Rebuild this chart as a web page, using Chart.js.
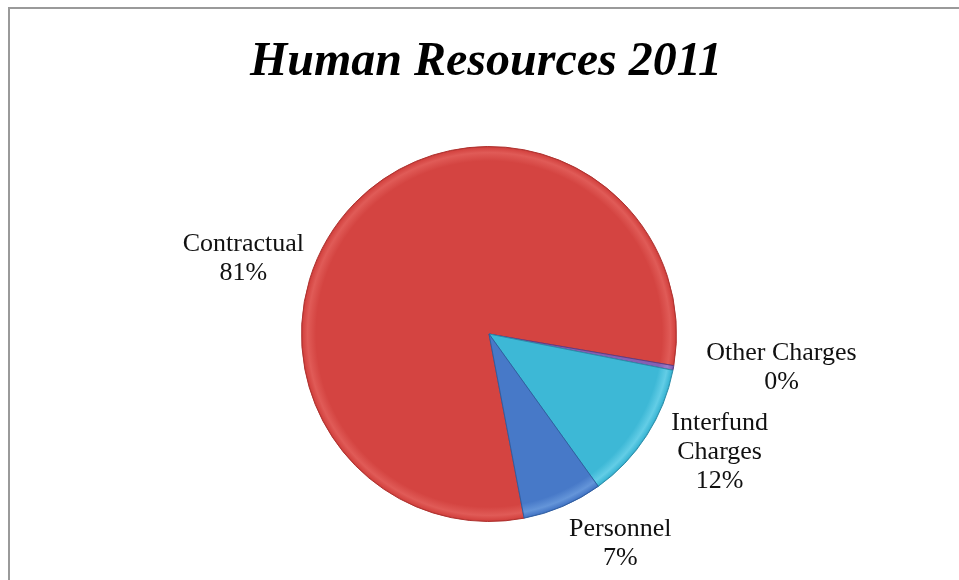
<!DOCTYPE html>
<html>
<head>
<meta charset="utf-8">
<script src="https://cdn.jsdelivr.net/npm/chart.js@4"></script>
<style>
  html, body { margin: 0; padding: 0; background: #ffffff; }
  #wrap { width: 959px; height: 580px; position: relative; }
</style>
</head>
<body>
<div id="wrap"><canvas id="c" width="959" height="580"></canvas></div>
<script>
// Budget shares, drawn clockwise from the start angle
const categories = ['Contractual', 'Other Charges', 'Interfund Charges', 'Personnel'];
const shares = [80.7, 0.4, 12.0, 6.9];
const titleText = 'Human Resources 2011';

// Slice colours: base, rim highlight, edge shade
const baseColors = ['#d44441', '#8460b4', '#3db8d6', '#4779c8'];
const lightColors = ['#e05b57', '#9a7cc8', '#63cde6', '#6495d9'];
const darkColors = ['#b0322f', '#5c3f88', '#2b8eaa', '#305ea2'];

// Label lines per slice (name lines; percentage appended)
const labelLines = [['Contractual'], ['Other Charges'], ['Interfund', 'Charges'], ['Personnel']];
// Label anchors in radius units relative to pie centre
const labelAnchors = [[-1.31, -0.40], [1.56, 0.18], [1.23, 0.63], [0.70, 1.12]];

const serif = '"Liberation Serif", "Times New Roman", serif';

function sliceFill(ctx) {
  const chart = ctx.chart;
  const area = chart.chartArea;
  if (!area) return baseColors[ctx.dataIndex];
  const el = chart.getDatasetMeta(0).data[ctx.dataIndex];
  const cx = (area.left + area.right) / 2;
  const cy = (area.top + area.bottom) / 2;
  const r = el && el.outerRadius ? el.outerRadius : Math.min(area.width, area.height) / 2;
  const g = chart.ctx.createRadialGradient(cx, cy, 0, cx, cy, r);
  const i = ctx.dataIndex;
  g.addColorStop(0, baseColors[i]);
  g.addColorStop(0.92, baseColors[i]);
  g.addColorStop(0.965, lightColors[i]);
  g.addColorStop(0.99, baseColors[i]);
  g.addColorStop(1, darkColors[i]);
  return g;
}

const decor = {
  id: 'decor',
  beforeDraw(chart) {
    const c = chart.ctx;
    c.save();
    c.fillStyle = '#ffffff';
    c.fillRect(0, 0, chart.width, chart.height);
    c.strokeStyle = '#9a9a9a';
    c.lineWidth = 2;
    c.beginPath();
    c.moveTo(9, chart.height + 2);
    c.lineTo(9, 8);
    c.lineTo(chart.width + 2, 8);
    c.stroke();
    c.fillStyle = '#000000';
    c.font = 'italic bold 48px ' + serif;
    c.textAlign = 'center';
    c.textBaseline = 'alphabetic';
    c.fillText(titleText, 486, 75);
    c.restore();
  },
  afterDatasetsDraw(chart) {
    const meta = chart.getDatasetMeta(0);
    const arc = meta.data[0];
    if (!arc) return;
    const cx = arc.x, cy = arc.y, r = arc.outerRadius;
    const total = shares.reduce((a, b) => a + b, 0);
    const c = chart.ctx;
    c.save();
    c.fillStyle = '#111111';
    c.font = '26px ' + serif;
    c.textAlign = 'center';
    c.textBaseline = 'middle';
    const lh = 29;
    shares.forEach((v, i) => {
      const lines = labelLines[i].concat([Math.round(v / total * 100) + '%']);
      const x = cx + labelAnchors[i][0] * r;
      const y = cy + labelAnchors[i][1] * r;
      const y0 = y - (lines.length - 1) * lh / 2;
      lines.forEach((t, k) => c.fillText(t, x, y0 + k * lh));
    });
    c.restore();
  }
};

new Chart(document.getElementById('c'), {
  type: 'pie',
  data: {
    labels: categories,
    datasets: [{
      data: shares,
      backgroundColor: sliceFill,
      borderColor: darkColors,
      borderWidth: 1
    }]
  },
  options: {
    responsive: false,
    animation: false,
    rotation: 169.2,
    layout: { padding: { left: 301, right: 282, top: 146, bottom: 58 } },
    plugins: {
      legend: { display: false },
      tooltip: { enabled: false },
      title: { display: false }
    }
  },
  plugins: [decor]
});
</script>
</body>
</html>
